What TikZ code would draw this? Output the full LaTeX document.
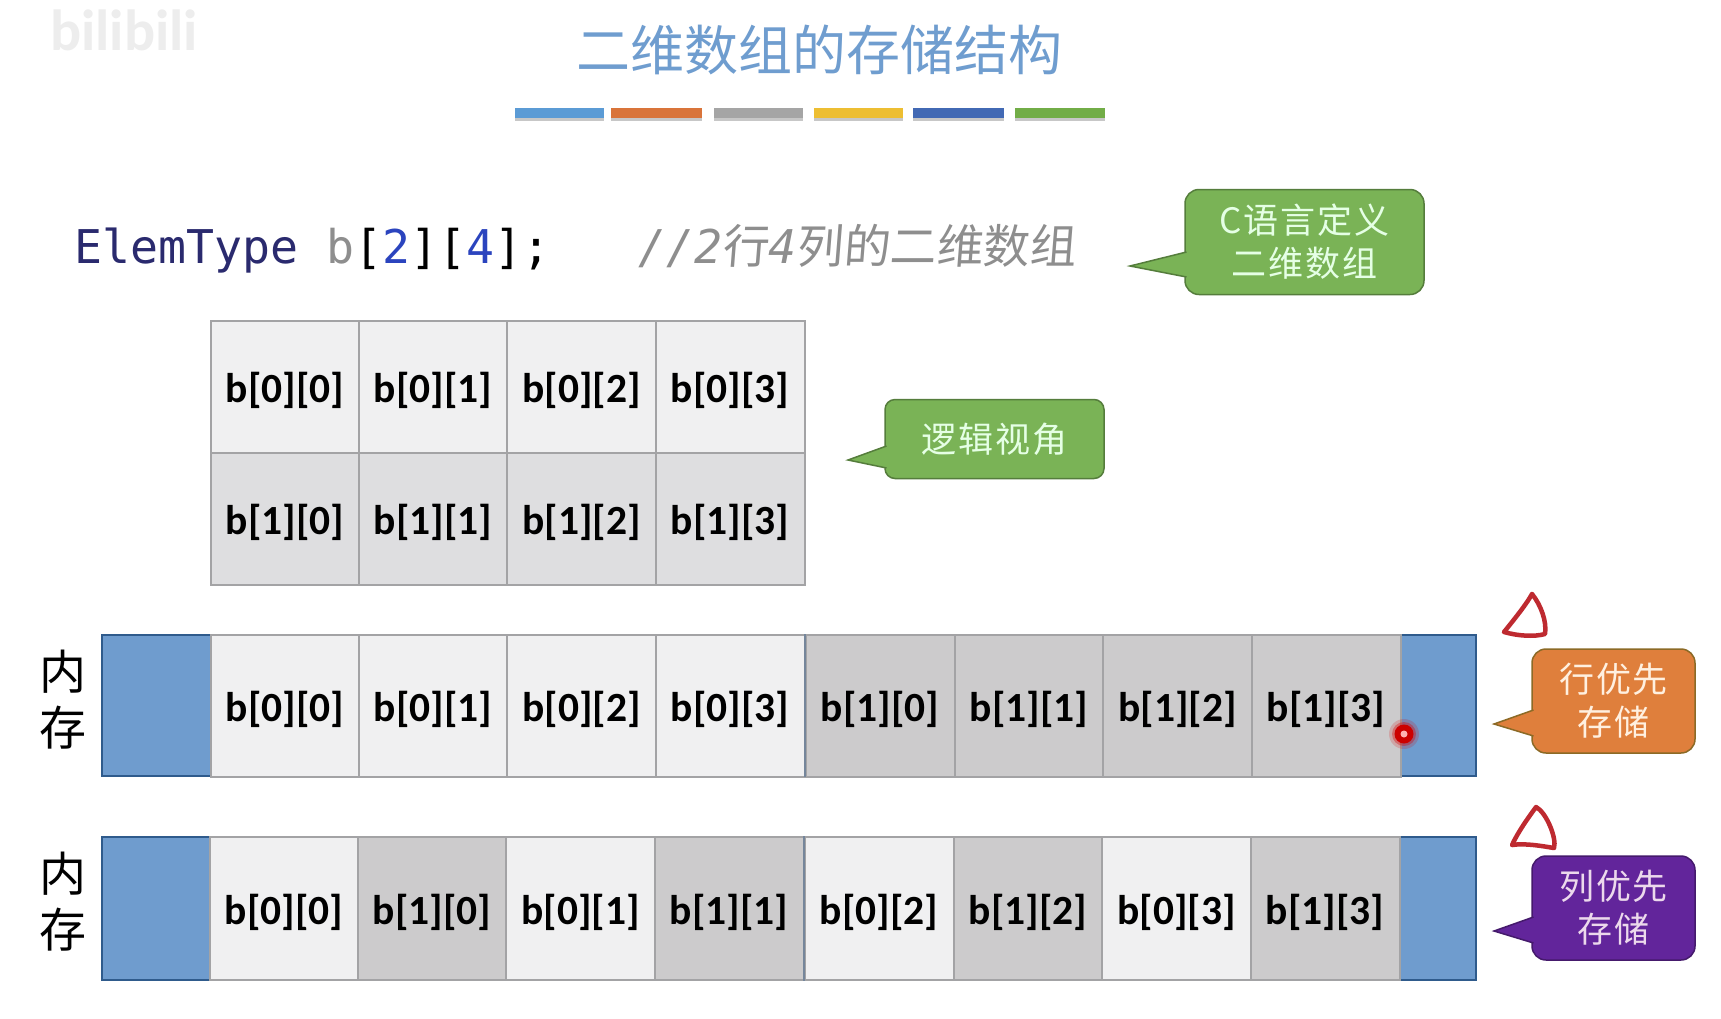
\documentclass[tikz,border=0pt]{standalone}
\usepackage{fontspec}
\usetikzlibrary{positioning}
\newfontfamily\cjk{Noto Sans CJK SC}
\newfontfamily\cjkwide[LetterSpace=5]{Noto Sans CJK SC}
\newfontfamily\cjkslant[FakeSlant=0.08]{Noto Sans CJK SC}
\newfontfamily\cellfont{Carlito}
\newfontfamily\codefont{DejaVu Sans Mono}
\definecolor{titleblue}{HTML}{6F9DCF}
\definecolor{memblue}{HTML}{6F9CCE}
\definecolor{memedge}{HTML}{2F5B8C}
\definecolor{celledge}{HTML}{A3A3A5}
\definecolor{lightcell}{HTML}{F0F0F1}
\definecolor{midcell}{HTML}{DEDEE0}
\definecolor{darkcell}{HTML}{CCCBCC}
\definecolor{codenavy}{HTML}{2A2A6E}
\definecolor{codeblue}{HTML}{2B44BE}
\definecolor{codegrey}{HTML}{8E8E8E}
\definecolor{callgreen}{HTML}{7AB356}
\definecolor{callorange}{HTML}{DF7F3C}
\definecolor{callpurple}{HTML}{62259B}
\definecolor{penred}{HTML}{BE2A30}
\tikzset{
	cell/.style={draw=celledge,line width=2pt,minimum width=149pt,inner sep=0pt,text height=40pt,text depth=8pt,font=\cellfont\bfseries\fontsize{41.5}{48}\selectfont,text=black},
	memcell/.style={cell,minimum height=142pt},
	gridcell/.style={cell,minimum height=132pt},
	memblock/.style={draw=memedge,fill=memblue,line width=1.5pt},
	callbody/.style={line width=1.5pt,align=center,inner sep=0pt,rounded corners=14pt,font=\cjkwide\fontsize{35}{43}\selectfont},
	calltip/.style={line width=1.5pt,line join=miter},
	memlabel/.style={align=center,inner sep=0pt,font=\cjk\fontsize{47}{56}\selectfont},
	penmark/.style={draw=penred,line width=4.5pt,line join=round,line cap=round}
}
\begin{document}
\begin{tikzpicture}[x=1pt,y=-1pt]
	\useasboundingbox (0,0) rectangle (1721,1018);
	\fill[white] (0,0) rectangle (1721,1018);
	\node[text=black!7,inner sep=0pt,font=\cellfont\bfseries\fontsize{58}{62}\selectfont] (logo) at (124,30) {bilibili};
	% title and colour bars
	\node[text=titleblue,inner sep=0pt,font=\cjk\fontsize{54}{60}\selectfont] (title) at (819,50) {二维数组的存储结构};
	\foreach \xa/\xb/\barcol in {515/604/5B9BD5,611/702/D9743A,714/803/A5A5A5,814/903/EDBE32,913/1004/4269B4,1015/1105/72AD47}{
		\definecolor{barcol}{HTML}{\barcol}
		\fill[black!22] (\xa,110) rectangle (\xb,121);
		\fill[barcol] (\xa,107.5) rectangle (\xb,118);
	}
	% code line
	\node[anchor=base west,inner sep=0pt,font=\codefont\fontsize{46.5}{50}\selectfont] (code) at (74.5,263) {\textcolor{codenavy}{ElemType} \textcolor{codegrey}{b}[\textcolor{codeblue}{2}][\textcolor{codeblue}{4}];};
	\node[anchor=base west,inner sep=0pt,text=codegrey,font=\fontsize{46.5}{50}\selectfont] (comment) at (638,263) {{\codefont\itshape //2}{\cjkslant 行}{\codefont\itshape 4}{\cjkslant 列的二维数组}};
	% logical view
	\foreach \cx/\lab in {285/b[0][0],433/b[0][1],581.5/b[0][2],730/b[0][3]}{
		\node[gridcell,fill=lightcell] (top\cx) at (\cx,386.5) {\lab};
	}
	\foreach \cx/\lab in {285/b[1][0],433/b[1][1],581.5/b[1][2],730/b[1][3]}{
		\node[gridcell,fill=midcell] (bot\cx) at (\cx,518.5) {\lab};
	}
	% row-major memory
	\draw[memblock] (102,635) rectangle (211,776);
	\draw[memblock] (1400,635) rectangle (1476,776);
	\foreach \cx/\lab/\cellcol in {285/b[0][0]/lightcell,433/b[0][1]/lightcell,581.5/b[0][2]/lightcell,730/b[0][3]/lightcell,880/b[1][0]/darkcell,1029/b[1][1]/darkcell,1177.5/b[1][2]/darkcell,1326/b[1][3]/darkcell}{
		\node[memcell,fill=\cellcol] (rowm\cx) at (\cx,705.5) {\lab};
	}
	% column-major memory
	\draw[memblock] (102,837) rectangle (210,980);
	\draw[memblock] (1399,837) rectangle (1476,980);
	\foreach \cx/\lab/\cellcol in {284/b[0][0]/lightcell,432/b[1][0]/darkcell,580.5/b[0][1]/lightcell,729/b[1][1]/darkcell,879/b[0][2]/lightcell,1028/b[1][2]/darkcell,1176.5/b[0][3]/lightcell,1325/b[1][3]/darkcell}{
		\node[memcell,minimum height=143pt,fill=\cellcol] (colm\cx) at (\cx,908.5) {\lab};
	}
	\draw[memedge!40!celledge,line width=2.5pt] (805,634) -- (805,777) (804,836) -- (804,981);
	\node[memlabel] (memrow) at (63,700) {内\\存};
	\node[memlabel] (memcol) at (63,902) {内\\存};
	% callouts
	\node[callbody,draw=callgreen!70!black,fill=callgreen,text=green!10!white,minimum width=239pt,minimum height=105pt] (cdef) at (1304.5,242) {C语言定义\\二维数组};
	\draw[calltip,draw=callgreen!70!black,fill=callgreen] (1186.5,252) -- (1130,266) -- (1186.5,277);
	\node[callbody,rounded corners=10pt,draw=callgreen!70!black,fill=callgreen,text=green!10!white,minimum width=219pt,minimum height=79pt] (logic) at (994.5,439) {逻辑视角};
	\draw[calltip,draw=callgreen!70!black,fill=callgreen] (886.5,446) -- (848,460) -- (886.5,468);
	\node[callbody,draw=callorange!70!black!90!green,fill=callorange,text=orange!12!white,minimum width=163pt,minimum height=104pt] (rowfirst) at (1613.5,701) {行优先\\存储};
	\draw[calltip,draw=callorange!70!black!90!green,fill=callorange] (1533.5,710) -- (1494,724) -- (1533.5,736);
	\node[callbody,draw=callpurple!70!black,fill=callpurple,text=violet!15!white,minimum width=163pt,minimum height=104pt] (colfirst) at (1613.5,908) {列优先\\存储};
	\draw[calltip,draw=callpurple!70!black,fill=callpurple] (1533.5,917) -- (1494,931) -- (1533.5,943);
	% pen marks
	\draw[penmark] (1532,594) .. controls (1526,605) and (1512,622) .. (1504,632) .. controls (1518,636) and (1534,637) .. (1545,634) .. controls (1547,622) and (1541,605) .. (1532,594);
	\draw[penmark] (1536,807) .. controls (1528,818) and (1518,832) .. (1512,845) .. controls (1525,843) and (1542,846) .. (1554,848) .. controls (1557,838) and (1546,812) .. (1536,807);
	\fill[red!85!black,opacity=0.18] (1404,734) circle (15pt);
	\fill[red!85!black,opacity=0.35] (1404,734) circle (12pt);
	\fill[red!80!black] (1404,734) circle (9.5pt);
	\fill[red!30!white] (1404,734) circle (3.5pt);
\end{tikzpicture}
\end{document}
